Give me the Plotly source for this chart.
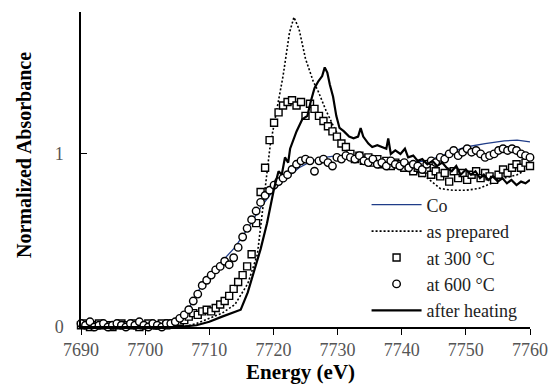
import plotly.graph_objects as go

# ---- data ----
co_e = [7690, 7700, 7703, 7704.5, 7706, 7707, 7708, 7709, 7710, 7712, 7714, 7716, 7718, 7720,
        7722, 7724, 7726, 7728, 7730, 7732, 7735, 7738, 7741, 7744, 7747, 7750, 7753, 7756, 7758, 7760]
co_y = [0.0, 0.0, 0.005, 0.02, 0.07, 0.12, 0.19, 0.25, 0.3, 0.38, 0.46, 0.57, 0.69, 0.79,
        0.86, 0.92, 0.96, 0.98, 0.99, 0.99, 0.98, 0.96, 0.95, 0.96, 1.0, 1.04, 1.06, 1.075, 1.08, 1.07]

prep_e = [7690, 7706, 7708, 7710, 7712, 7714, 7716, 7717.5, 7718.5, 7719.5, 7720.5, 7721.5, 7722.5,
          7723.2, 7724, 7725, 7726.2, 7727, 7728.2, 7729.5, 7730.8, 7732, 7734, 7736, 7738, 7740,
          7742, 7744, 7746, 7748, 7750, 7752, 7754, 7756, 7758, 7760]
prep_y = [0.0, 0.0, 0.02, 0.05, 0.08, 0.13, 0.25, 0.42, 0.73, 1.05, 1.25, 1.45, 1.7,
          1.79, 1.72, 1.55, 1.42, 1.36, 1.25, 1.15, 1.06, 1.0, 0.97, 0.95, 0.94, 0.92,
          0.9, 0.86, 0.8, 0.79, 0.79, 0.8, 0.83, 0.86, 0.88, 0.92]

heat_e = [7690, 7705, 7708, 7710, 7712, 7713.5, 7714.9, 7716, 7717, 7718, 7719, 7720.1, 7720.8,
          7721.3, 7721.8, 7722.3, 7722.6, 7723.6, 7724.5, 7725.3, 7725.8, 7726.4, 7727, 7727.6,
          7728, 7728.4, 7728.8, 7729.3, 7729.8, 7730.3, 7731, 7731.8, 7732.5, 7733.2, 7733.6,
          7734, 7734.8, 7735.4, 7736.2, 7737, 7737.6, 7737.9, 7738.3, 7739, 7739.8, 7740.5,
          7741, 7741.8, 7742.5, 7743.2, 7744, 7744.8, 7745.5, 7746.3, 7747, 7747.8, 7748.5,
          7749.2, 7750, 7750.8, 7751.5, 7752.2, 7752.8, 7753.5, 7754.2, 7755, 7755.7, 7756.4,
          7757.1, 7757.9, 7758.6, 7759.3, 7760]
heat_y = [0.0, 0.0, 0.01, 0.03, 0.06, 0.08, 0.1, 0.2, 0.32, 0.45, 0.6, 0.8, 0.9,
          0.88, 0.98, 0.95, 1.03, 1.13, 1.2, 1.22, 1.3, 1.38, 1.42, 1.45,
          1.5, 1.47, 1.4, 1.33, 1.22, 1.15, 1.13, 1.1, 1.09, 1.1, 1.15,
          1.1, 1.06, 1.04, 1.05, 1.04, 1.03, 1.09, 1.0, 1.02, 1.0, 1.03,
          0.98, 0.99, 0.96, 0.97, 0.94, 0.96, 0.93, 0.95, 0.92, 0.9, 0.93,
          0.88, 0.91, 0.88, 0.9, 0.86, 0.88, 0.85, 0.87, 0.84, 0.86, 0.83,
          0.85, 0.82, 0.84, 0.83, 0.85]

pts_e = [7690.0, 7690.7, 7691.4, 7692.1, 7692.8, 7693.5, 7694.2, 7694.9, 7695.6, 7696.3,
         7697.0, 7697.7, 7698.4, 7699.1, 7699.8, 7700.5, 7701.2, 7701.9, 7702.6, 7703.3,
         7704.0, 7704.7, 7705.4, 7706.1, 7706.8, 7707.5, 7708.2, 7708.9, 7709.6, 7710.3,
         7711.0, 7711.7, 7712.4, 7713.1, 7713.8, 7714.5, 7715.2, 7715.9, 7716.6, 7717.3,
         7718.0, 7718.7, 7719.4, 7720.1, 7720.8, 7721.5, 7722.2, 7722.9, 7723.6, 7724.3,
         7725.0, 7725.7, 7726.4, 7727.1, 7727.8, 7728.5, 7729.2, 7729.9, 7730.6, 7731.3,
         7732.0, 7732.7, 7733.4, 7734.1, 7734.8, 7735.5, 7736.2, 7736.9, 7737.6, 7738.3,
         7739.0, 7739.7, 7740.4, 7741.1, 7741.8, 7742.5, 7743.2, 7743.9, 7744.6, 7745.3,
         7746.0, 7746.7, 7747.4, 7748.1, 7748.8, 7749.5, 7750.2, 7750.9, 7751.6, 7752.3,
         7753.0, 7753.7, 7754.4, 7755.1, 7755.8, 7756.5, 7757.2, 7757.9, 7758.6, 7759.3,
         7760.0]

t300_y = [0.01, 0.02, 0.0, 0.01, 0.02, 0.01, 0.01, 0.0, 0.01, 0.02,
          0.01, 0.01, 0.02, 0.0, 0.01, 0.02, 0.01, 0.01, 0.02, 0.01,
          0.02, 0.02, 0.03, 0.04, 0.06, 0.08, 0.07, 0.09, 0.10, 0.09,
          0.11, 0.13, 0.15, 0.18, 0.22, 0.26, 0.30, 0.35, 0.42, 0.60,
          0.78, 0.92, 1.08, 1.18, 1.24, 1.28, 1.30, 1.31, 1.28, 1.30,
          1.22, 1.29, 1.26, 1.22, 1.19, 1.16, 1.13, 1.10, 1.06, 1.04,
          1.00, 0.97, 0.99, 0.96, 0.98, 0.95, 0.97, 0.94, 0.96, 0.93,
          0.95, 0.94, 0.92, 0.93, 0.90, 0.92, 0.89, 0.91, 0.88, 0.90,
          0.87, 0.89, 0.84, 0.90, 0.86, 0.89, 0.85, 0.88, 0.90, 0.86,
          0.89, 0.87, 0.85, 0.88, 0.91, 0.89, 0.92, 0.94, 0.92, 0.95,
          0.93]

t600_y = [0.02, 0.01, 0.03, 0.0, 0.01, 0.02, 0.0, 0.01, 0.02, 0.01,
          0.0, 0.02, 0.01, 0.03, 0.01, 0.0, 0.02, 0.01, 0.0, 0.02,
          0.02, 0.03, 0.05, 0.07, 0.10, 0.15, 0.19, 0.24, 0.27, 0.30,
          0.33, 0.35, 0.38, 0.36, 0.40, 0.46, 0.52, 0.57, 0.62, 0.67,
          0.72, 0.76, 0.79, 0.82, 0.84, 0.86, 0.88, 0.91, 0.94, 0.96,
          0.97, 0.96, 0.90, 0.96, 0.97, 0.95, 0.93, 0.98, 0.97, 0.99,
          0.98, 0.97, 0.99, 0.96, 0.95, 0.97, 0.94, 0.95, 0.93, 0.96,
          0.94, 0.93, 0.95, 0.92, 0.94, 0.93, 0.91, 0.94, 0.96, 0.95,
          0.98, 0.97, 1.00, 1.02, 0.99, 1.01, 1.03, 1.01, 1.02, 1.00,
          0.98, 0.99, 1.00, 1.02, 1.03, 1.02, 1.03, 1.02, 1.00, 0.99,
          0.98]

x_ticks = [7690, 7700, 7710, 7720, 7730, 7740, 7750, 7760]
y_ticks = [0, 1]

FONT = "Liberation Serif"

fig = go.Figure()
fig.add_trace(go.Scatter(x=co_e, y=co_y, mode="lines", name="Co",
                         line=dict(color="#1f3c88", width=1.3)))
fig.add_trace(go.Scatter(x=prep_e, y=prep_y, mode="lines", name="as prepared",
                         line=dict(color="black", width=1.6, dash="2px,2px")))
fig.add_trace(go.Scatter(x=pts_e, y=t300_y, mode="markers", name="at 300 °C", cliponaxis=False,
                         marker=dict(symbol="square", size=7, color="white",
                                     line=dict(color="black", width=1.4))))
fig.add_trace(go.Scatter(x=pts_e, y=t600_y, mode="markers", name="at 600 °C", cliponaxis=False,
                         marker=dict(symbol="circle", size=7.5, color="white",
                                     line=dict(color="black", width=1.4))))
fig.add_trace(go.Scatter(x=heat_e, y=heat_y, mode="lines", name="after heating",
                         line=dict(color="black", width=2.2)))

fig.update_layout(
    width=560, height=390,
    margin=dict(l=81, r=23, t=12, b=63),
    paper_bgcolor="white", plot_bgcolor="white",
    font=dict(family=FONT, size=18, color="black"),
    showlegend=True,
    legend=dict(x=0.636, y=0.446, xanchor="left", yanchor="top",
                bgcolor="rgba(0,0,0,0)", font=dict(family=FONT, size=18, color="#222"),
                itemwidth=50, tracegroupgap=0),
    xaxis=dict(range=[7690, 7760], tickvals=x_ticks, ticks="outside", ticklen=6,
               tickcolor="black", showline=True, linecolor="black", linewidth=1.5,
               showgrid=False, zeroline=False,
               tickfont=dict(family=FONT, size=18, color="#555")),
    yaxis=dict(range=[0, 1.82], tickvals=y_ticks, ticks="inside", ticklen=6,
               tickcolor="black", showline=True, linecolor="black", linewidth=1.5,
               showgrid=False, zeroline=False, ticklabelstandoff=12,
               tickfont=dict(family=FONT, size=18, color="#555")),
    annotations=[
        dict(text="<b>Energy (eV)</b>", xref="paper", yref="paper", x=0.489, y=-0.143,
             xanchor="center", yanchor="middle", showarrow=False,
             font=dict(family=FONT, size=21, color="black")),
        dict(text="<b>Normalized Absorbance</b>", xref="paper", yref="paper", x=-0.127, y=0.546,
             xanchor="center", yanchor="middle", textangle=-90, showarrow=False,
             font=dict(family=FONT, size=20, color="black")),
    ],
)

fig.write_html("out.html", config={"displayModeBar": False},
               post_script="document.body.style.margin='0';")
